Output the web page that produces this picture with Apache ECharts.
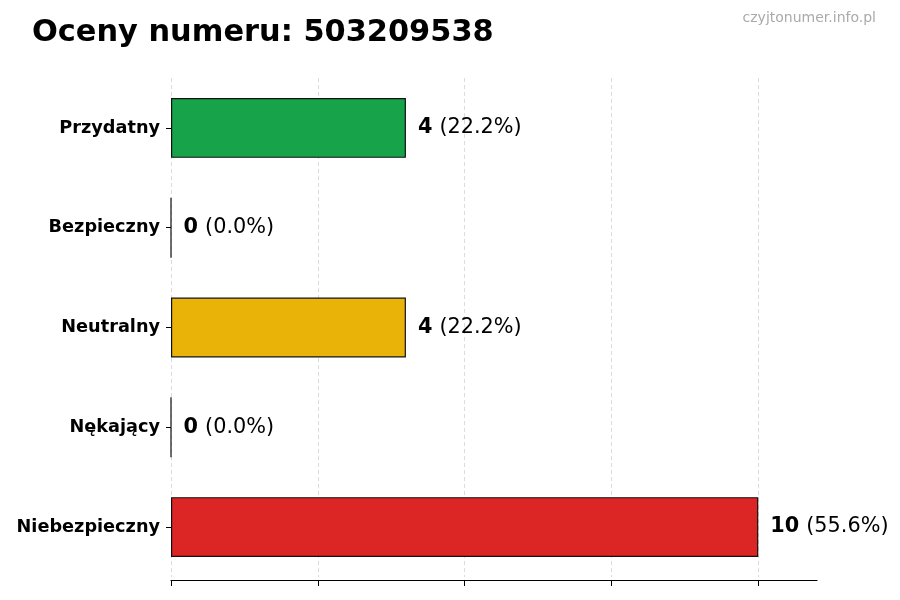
<!DOCTYPE html>
<html>
<head>
    <meta charset="utf-8">
    <title>Oceny numeru</title>
    <script src="https://cdn.jsdelivr.net/npm/echarts@6/dist/echarts.min.js"></script>
    <style>
        html, body { margin: 0; padding: 0; background: #fff; }
        #chart { width: 900px; height: 600px; }
    </style>
</head>
<body>
<div id="chart"></div>
<script>
    // dane wykresu
    var categories = ['Przydatny', 'Bezpieczny', 'Neutralny', 'Nękający', 'Niebezpieczny'];
    var values = [4, 0, 4, 0, 10];
    var barColors = ['#16a34a', '#9ca3af', '#eab308', '#f97316', '#dc2626'];
    var xTicks = [0, 2.5, 5, 7.5, 10];

    var total = values.reduce(function (a, b) { return a + b; }, 0);
    var font = 'DejaVu Sans';

    var myChart = echarts.init(document.getElementById('chart'));

    myChart.setOption({
        backgroundColor: '#ffffff',
        animation: false,
        title: [{
            text: 'Oceny numeru: 503209538',
            left: 27,
            top: 13,
            textStyle: { fontFamily: font, fontWeight: 'bold', fontSize: 30.4, color: '#000' }
        }, {
            text: 'czyjtonumer.info.pl',
            right: 19,
            top: 6,
            textStyle: { fontFamily: font, fontWeight: 'normal', fontSize: 14, color: '#aaaaaa' }
        }],
        grid: { left: 171, right: 83, top: 78, bottom: 23 },
        xAxis: {
            type: 'value',
            min: 0,
            max: 11,
            interval: 2.5,
            offset: 3,
            axisLine: { show: true, lineStyle: { color: '#000', width: 1.2 } },
            axisTick: { show: true, length: 6, customValues: xTicks, lineStyle: { color: '#000', width: 1 } },
            axisLabel: { show: false },
            splitLine: {
                show: true,
                lineStyle: { color: '#dcdcdc', type: [4, 3], width: 1 }
            }
        },
        yAxis: {
            type: 'category',
            inverse: true,
            data: categories,
            axisLine: { show: false },
            axisTick: { show: true, alignWithLabel: true, length: 5, lineStyle: { color: '#000' } },
            axisLabel: {
                margin: 11,
                fontFamily: font,
                fontWeight: 'bold',
                fontSize: 17.7,
                color: '#000'
            },
            splitLine: { show: false }
        },
        series: [{
            type: 'bar',
            barWidth: '60%',
            data: values.map(function (v, i) {
                return { value: v, itemStyle: { color: barColors[i] } };
            }),
            itemStyle: { borderColor: '#111', borderWidth: 1.2 },
            label: {
                show: true,
                position: 'right',
                distance: 12,
                formatter: function (p) {
                    var pct = total ? (p.value / total * 100).toFixed(1) : '0.0';
                    return '{b|' + p.value + '}{s| }{n|(' + pct + '%)}';
                },
                rich: {
                    b: { fontFamily: font, fontWeight: 'bold', fontSize: 20.8, color: '#000' },
                    s: { fontFamily: font, fontSize: 20.8, width: 7 },
                    n: { fontFamily: font, fontWeight: 'normal', fontSize: 20.8, color: '#000' }
                }
            }
        }]
    });
</script>
</body>
</html>
